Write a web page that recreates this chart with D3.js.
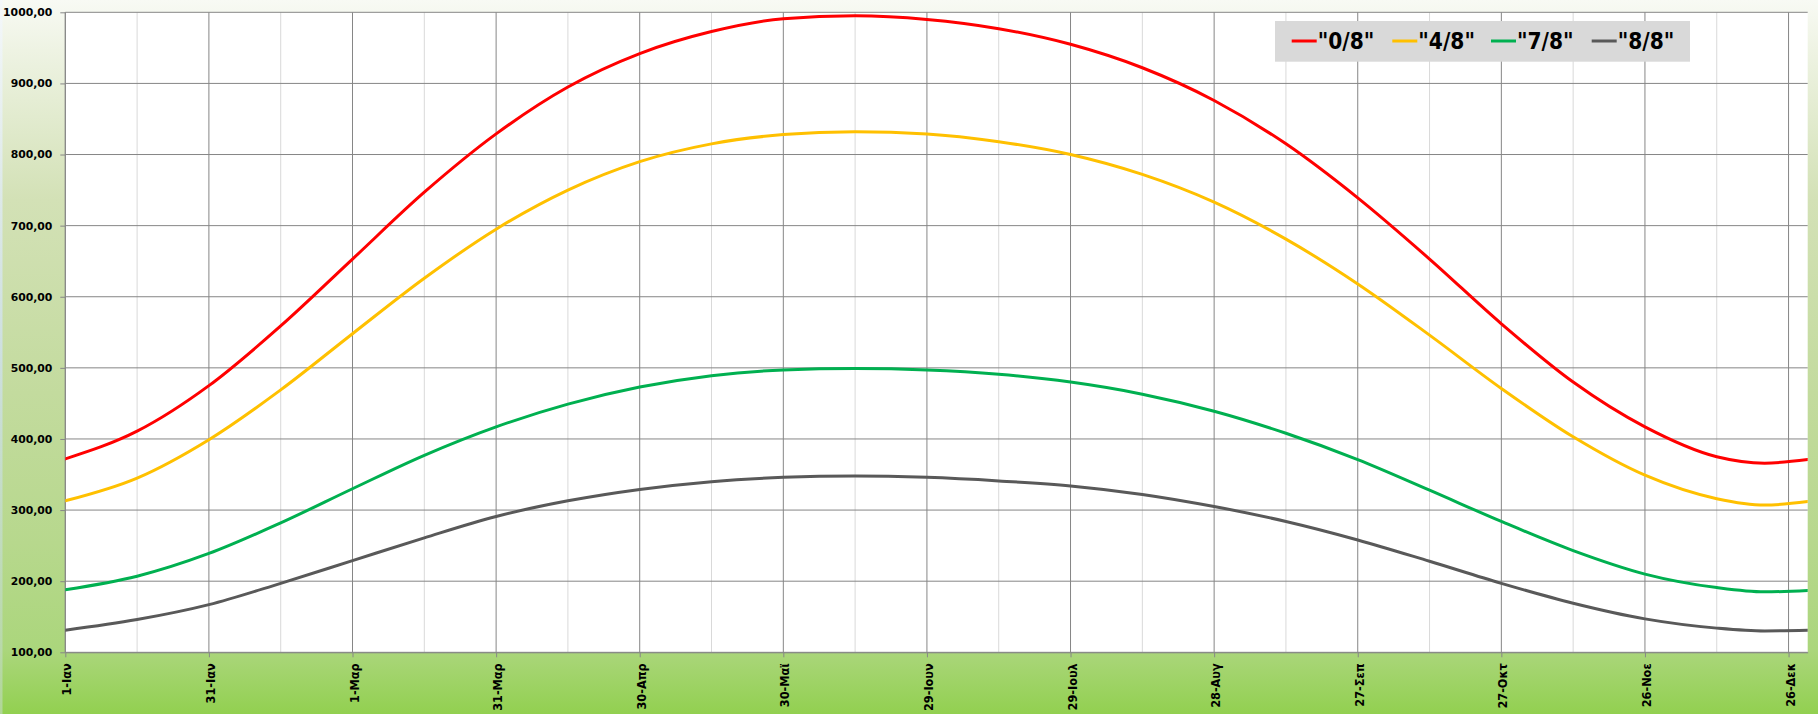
<!DOCTYPE html>
<html>
<head>
<meta charset="utf-8">
<script src="https://cdn.jsdelivr.net/npm/d3@7"></script>
<style>
  html, body { margin: 0; padding: 0; background: #ffffff; }
  svg { display: block; }
</style>
</head>
<body>
<svg id="chart" width="1818" height="714"></svg>
<script>
// ---- data ----
const days = [0, 15, 30, 45, 60, 75, 90, 105, 120, 135, 150, 165, 180, 195, 210, 225, 240, 255, 270, 285, 300, 315, 330, 345, 355, 364];
const series0 = [372, 411, 475, 559, 653, 747, 829, 895, 942, 973, 991, 995, 990, 977, 955, 922, 876, 815, 739, 653, 562, 480, 417, 375, 366, 371];
const series4 = [313, 345, 399, 469, 548, 626, 695, 750, 790, 815, 828, 832, 829, 818, 800, 772, 733, 681, 618, 546, 471, 403, 349, 316, 307, 312];
const series7 = [188, 207, 239, 282, 330, 377, 417, 449, 473, 489, 497, 499, 497, 491, 480, 463, 439, 408, 371, 328, 284, 243, 210, 191, 185, 187];
const series8 = [131, 146, 167, 197, 229, 261, 291, 313, 329, 340, 346, 348, 346, 341, 334, 322, 305, 284, 258, 228, 197, 169, 147, 134, 130, 131];
const seriesNames = ['"0/8"', '"4/8"', '"7/8"', '"8/8"'];
const seriesColors = ["#FF0000", "#FFC000", "#00B050", "#595959"];
const tickDays = [0, 30, 60, 90, 120, 150, 180, 210, 240, 270, 300, 330, 360];
const tickLabels = ["1-Ιαν", "31-Ιαν", "1-Μαρ", "31-Μαρ", "30-Απρ", "30-Μαϊ", "29-Ιουν", "29-Ιουλ", "28-Αυγ", "27-Σεπ", "27-Οκτ", "26-Νοε", "26-Δεκ"];
const minorDays = [15, 45, 75, 105, 135, 165, 195, 225, 255, 285, 315, 345];
const yTicks = [100, 200, 300, 400, 500, 600, 700, 800, 900, 1000];

const allSeries = [series0, series4, series7, series8];

// ---- layout ----
const W = 1818, H = 714;
const L = 65.3, R = 1807.7, T = 12.3, B = 652.3;
const svg = d3.select("#chart");
const FONT = "'DejaVu Sans', Verdana, sans-serif";

// background gradient
const defs = svg.append("defs");
const grad = defs.append("linearGradient").attr("id", "bg").attr("x1", 0).attr("y1", 0).attr("x2", 0).attr("y2", 1);
[[0, "#F8FAF4"], [0.07, "#EEF3E3"], [0.28, "#D3E1B6"], [0.55, "#C3DB9E"], [0.76, "#B7D88D"], [0.91, "#ABD67C"], [1, "#92D050"]]
  .forEach(([o, c]) => grad.append("stop").attr("offset", o).attr("stop-color", c));
const gradL = defs.append("linearGradient").attr("id", "bgl").attr("x1", 0).attr("y1", 0).attr("x2", 0).attr("y2", 1);
[[0, "#F4F8FC"], [0.5, "#CFE0EE"], [1, "#B8D8A8"]]
  .forEach(([o, c]) => gradL.append("stop").attr("offset", o).attr("stop-color", c));
defs.append("clipPath").attr("id", "clip").append("rect")
  .attr("x", L).attr("y", T - 2).attr("width", R - L).attr("height", B - T + 4);

svg.append("rect").attr("width", W).attr("height", H).attr("fill", "url(#bg)");
svg.append("rect").attr("width", 2.5).attr("height", H).attr("fill", "url(#bgl)").attr("opacity", 0.8);

// plot area
svg.append("rect").attr("x", L).attr("y", T).attr("width", R - L).attr("height", B - T).attr("fill", "#FFFFFF");

const x = d3.scaleLinear().domain([0, 364]).range([L, R]);
const y = d3.scaleLinear().domain([100, 1000]).range([B, T]);

// gridlines
const grid = svg.append("g");
grid.selectAll(".minor").data(minorDays).join("line")
  .attr("x1", d => x(d)).attr("x2", d => x(d)).attr("y1", T).attr("y2", B)
  .attr("stroke", "#D9D9D9").attr("stroke-width", 1);
grid.selectAll(".vmajor").data(tickDays).join("line")
  .attr("x1", d => x(d)).attr("x2", d => x(d)).attr("y1", T).attr("y2", B)
  .attr("stroke", "#868686").attr("stroke-width", 1);
grid.selectAll(".hmajor").data(yTicks).join("line")
  .attr("x1", L).attr("x2", R).attr("y1", d => y(d)).attr("y2", d => y(d))
  .attr("stroke", "#868686").attr("stroke-width", 1);

// axes
const fmt = d => d3.format(".2f")(d).replace(".", ",");
const yAxis = svg.append("g").attr("transform", `translate(${L},0)`)
  .call(d3.axisLeft(y).tickValues(yTicks).tickSize(5).tickPadding(8).tickFormat(fmt));
yAxis.selectAll("path, line").attr("stroke", "#868686");
yAxis.selectAll("text").attr("fill", "#000").style("font-family", FONT)
  .style("font-size", "10.8px").style("font-weight", "bold");

const xAxis = svg.append("g").attr("transform", `translate(0,${B})`)
  .call(d3.axisBottom(x).tickValues(tickDays).tickSize(5).tickSizeOuter(0).tickFormat((d, i) => tickLabels[i]));
xAxis.select("path").attr("stroke", "#868686");
xAxis.selectAll("line").attr("stroke", "#868686");
xAxis.selectAll("text")
  .attr("transform", "rotate(-90) scale(0.92,1)")
  .attr("x", -12).attr("y", 0).attr("dy", "0.45em")
  .style("text-anchor", "end")
  .attr("fill", "#000")
  .style("font-family", FONT)
  .style("font-size", "12.3px").style("font-weight", "bold");
yAxis.select(".domain").remove();
svg.append("line").attr("x1", L).attr("x2", L).attr("y1", T).attr("y2", B).attr("stroke", "#868686");

// lines
const line = d3.line().x((d, i) => x(days[i])).y(d => y(d)).curve(d3.curveMonotoneX);
const lines = svg.append("g").attr("clip-path", "url(#clip)");
allSeries.forEach((s, k) => {
  lines.append("path").datum(s).attr("d", line)
    .attr("fill", "none").attr("stroke", seriesColors[k]).attr("stroke-width", 3)
    .attr("stroke-linejoin", "round").attr("stroke-linecap", "round");
});

// legend
const lg = svg.append("g");
lg.append("rect").attr("x", 1275).attr("y", 21).attr("width", 415).attr("height", 40.7).attr("fill", "#D9D9D9");
const itemX = [1291.7, 1392.3, 1491, 1591.7];
seriesNames.forEach((n, k) => {
  lg.append("line").attr("x1", itemX[k]).attr("x2", itemX[k] + 25).attr("y1", 41).attr("y2", 41)
    .attr("stroke", seriesColors[k]).attr("stroke-width", 3);
  lg.append("g").attr("transform", `translate(${itemX[k] + 26},48.6) scale(0.9,1)`)
    .append("text").text(n)
    .attr("fill", "#000")
    .style("font-family", FONT)
    .style("font-size", "22.5px").style("font-weight", "bold");
});
</script>
</body>
</html>
